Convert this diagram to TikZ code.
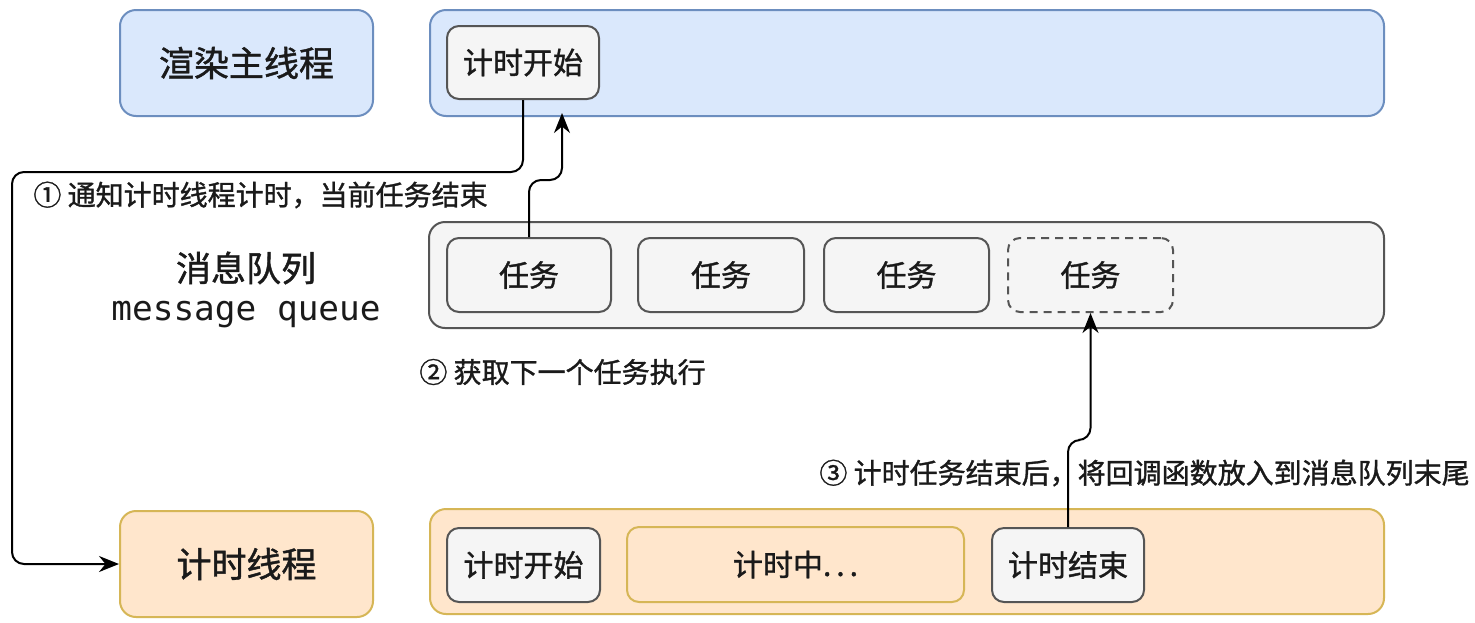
\documentclass[tikz,border=0pt]{standalone}
\usepackage{fontspec}
\setmainfont{Noto Sans CJK SC}[FakeBold=1.2]
\newfontfamily\monof{DejaVu Sans Mono}
\usetikzlibrary{arrows.meta}
\definecolor{bluefill}{HTML}{DAE8FC}
\definecolor{blueline}{HTML}{6C8EBF}
\definecolor{orfill}{HTML}{FFE6CC}
\definecolor{orline}{HTML}{D6B656}
\definecolor{grfill}{HTML}{F5F5F5}
\definecolor{grline}{HTML}{555555}
\definecolor{txt}{HTML}{1A1A1A}
\tikzset{
  bigbox/.style={draw, line width=1pt, rounded corners=8pt, inner sep=0pt, text=txt},
  bluebox/.style={bigbox, fill=bluefill, draw=blueline},
  orbox/.style={bigbox, fill=orfill, draw=orline},
  graybox/.style={bigbox, fill=grfill, draw=grline},
  smallbox/.style={draw=grline, fill=grfill, line width=1pt, rounded corners=6pt, inner sep=0pt, text=txt, font=\fontsize{15pt}{18pt}\selectfont},
  orsmall/.style={smallbox, fill=orfill, draw=orline},
  dashbox/.style={smallbox, dashed, dash pattern=on 4pt off 3pt},
  titlefont/.style={font=\fontsize{17.5pt}{21pt}\selectfont},
  lbl/.style={anchor=west, inner sep=0pt, text=txt, font=\fontsize{14pt}{17pt}\selectfont},
  conn/.style={draw=black, line width=1pt, rounded corners=6pt, -{Stealth[length=10pt,width=8pt]}},
}
\begin{document}
\begin{tikzpicture}[x=0.5pt,y=-0.5pt]
\fill[white] (0,0) rectangle (1475,622);
\path[use as bounding box] (0,0) rectangle (1475,622);

% top row
\node[bluebox, titlefont, minimum width=126.5pt, minimum height=53pt] (mainL) at (246.5,63) {渲染主线程};
\node[bluebox, minimum width=477pt, minimum height=53pt] (mainR) at (907,63) {};
\node[smallbox, minimum width=76pt, minimum height=36.5pt] (startT) at (523,62.5) {计时开始};

% message queue
\node[graybox, minimum width=477.5pt, minimum height=53pt] (queue) at (906.5,275) {};
\node[smallbox, minimum width=82pt, minimum height=37pt] (t1) at (529,275) {任务};
\node[smallbox, minimum width=83pt, minimum height=37pt] (t2) at (721,275) {任务};
\node[smallbox, minimum width=82.5pt, minimum height=37pt] (t3) at (906.5,275) {任务};
\node[dashbox, minimum width=82.5pt, minimum height=37pt] (t4) at (1090.5,275) {任务};
\node[inner sep=0pt, text=txt, font=\fontsize{17.5pt}{21pt}\selectfont] (qzh) at (246,268) {消息队列};
\node[inner sep=0pt, text=txt, font=\monof\fontsize{17.2pt}{21pt}\selectfont] (qen) at (246,315) {message queue};

% timer thread
\node[orbox, titlefont, minimum width=126.5pt, minimum height=53pt] (timerL) at (246.5,564) {计时线程};
\node[orbox, minimum width=477pt, minimum height=52.5pt] (timerR) at (907,561.5) {};
\node[smallbox, minimum width=76.5pt, minimum height=37pt] (startB) at (523.5,565) {计时开始};
\node[orsmall, minimum width=168.5pt, minimum height=37.5pt] (during) at (795.5,564.5) {计时中.\hspace{2.5pt}.\hspace{2.5pt}.};
\node[smallbox, minimum width=76pt, minimum height=37pt] (endB) at (1068,565) {计时结束};

% labels
\node[lbl] (l1) at (33,195) {① 通知计时线程计时，当前任务结束};
\node[lbl] (l2) at (419,372) {② 获取下一个任务执行};
\node[lbl] (l3) at (819,473) {③ 计时任务结束后，将回调函数放入到消息队列末尾};

% connectors
\coordinate (a1) at (12,172);
\draw[conn] (startT.south) |- (a1) |- (timerL.west);
\coordinate (a2) at (562,113);
\draw[conn] (t1.north) |- (562,180) -- (a2);
\draw[conn] (endB.north) |- (1090.5,440) -- (t4.south);
\end{tikzpicture}
\end{document}
